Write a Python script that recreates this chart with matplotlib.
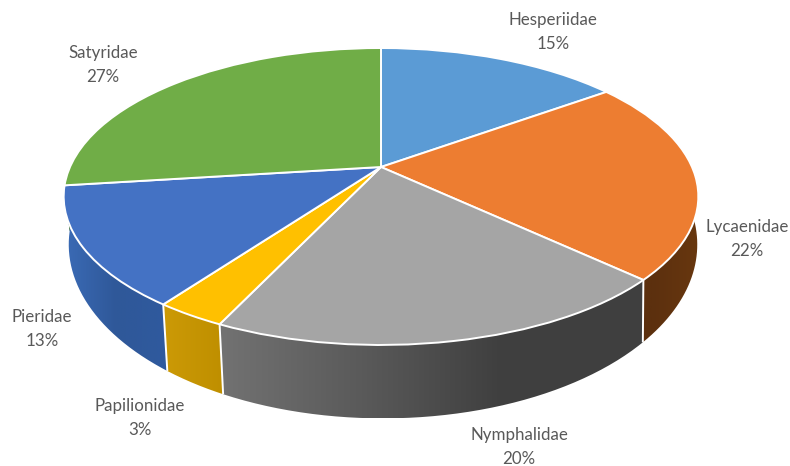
import numpy as np
import matplotlib
matplotlib.use("Agg")
import matplotlib.pyplot as plt
from matplotlib.path import Path
from matplotlib.patches import PathPatch
from matplotlib.transforms import Transform
from matplotlib.colors import to_rgb

families = ["Hesperiidae", "Lycaenidae", "Nymphalidae", "Papilionidae", "Pieridae", "Satyridae"]
shares = [15, 22, 20, 3, 13, 27]
colors = ["#5B9BD5", "#ED7D31", "#A5A5A5", "#FFC000", "#4472C4", "#70AD47"]
wall_colors = [
    ["#3f6f9f", "#3f6f9f"],
    ["#5c300e", "#5c300e", "#68370f"],
    ["#727272", "#5a5a5a", "#3f3f3f", "#404040"],
    ["#cc9a06", "#bf8f00"],
    ["#3b6bb6", "#2f5899", "#2f5a9e"],
    ["#54823a", "#54823a"],
]
label_xy = [(553, 32), (747, 239), (519, 447), (140, 418), (42, 329), (103, 65)]

CX_TOP, CX_LOW = 381.0, 383.0
CY_TOP, CY_LOW = 167.0, 210.0
AX_TOP, AX_LOW = 311.0, 308.0
BY_TOP, BY_LOW = 142.6, 167.0
K = 0.1986


class Projection(Transform):
    """Maps the unit-circle pie plane to the picture with a perspective."""
    input_dims = 2
    output_dims = 2

    def __init__(self, cx, a, b, cy):
        super().__init__()
        self.cx, self.a, self.b, self.cy = cx, a, b, cy

    def transform_non_affine(self, xy):
        xy = np.asarray(xy, dtype=float)
        d = 1 + K * xy[:, 1]
        return np.column_stack((self.cx + self.a * xy[:, 0] / d, self.cy - self.b * xy[:, 1] / d))


top = Projection(CX_TOP, AX_TOP, BY_TOP, CY_TOP)
low = Projection(CX_LOW, AX_LOW, BY_LOW, CY_LOW)


def arc(p, c0, c1, n=120):
    th = np.radians(90 - 3.6 * np.linspace(c0, c1, n))
    return p.transform_non_affine(np.column_stack((np.cos(th), np.sin(th))))


plt.rcParams["font.family"] = ["Lato", "DejaVu Sans"]
fig = plt.figure(figsize=(7.9, 4.66), dpi=100, facecolor="white")
ax = fig.add_axes([0, 0, 1, 1])

wedges, _ = ax.pie(shares, colors=colors, startangle=90, counterclock=False,
                   wedgeprops=dict(edgecolor="white", linewidth=1.4, zorder=5))
for w in wedges:
    w.set_transform(top + ax.transData)
    w.set_clip_on(False)

cum = np.concatenate(([0], np.cumsum(shares)))
for i in range(len(shares)):
    c0, c1 = cum[i], cum[i + 1]
    upper, lower = arc(top, c0, c1), arc(low, c0, c1)
    poly = np.vstack((upper, lower[::-1], upper[:1]))
    x0, x1 = poly[:, 0].min(), poly[:, 0].max()
    y0, y1 = poly[:, 1].min(), poly[:, 1].max()
    stops = np.array([to_rgb(c) for c in wall_colors[i]])
    t = np.linspace(0, 1, 256)
    pos = np.linspace(0, 1, len(stops))
    grad = np.stack([np.interp(t, pos, stops[:, j]) for j in range(3)], axis=-1)[None, :, :]
    im = ax.imshow(grad, extent=(x0, x1, y1, y0), aspect="auto", zorder=1, interpolation="bilinear")
    patch = PathPatch(Path(poly), transform=ax.transData, facecolor="none", edgecolor="none")
    ax.add_patch(patch)
    im.set_clip_path(patch)

for c in cum[2:5]:
    a, b = arc(top, c, c, 1)[0], arc(low, c, c, 1)[0]
    ax.plot([a[0], b[0]], [a[1], b[1]], color="white", lw=1.4, zorder=3, solid_capstyle="butt")

for name, share, (x, y) in zip(families, shares, label_xy):
    ax.text(x, y, f"{name}\n{share}%", ha="center", va="center", fontsize=12.2,
            color="#595959", linespacing=1.55, zorder=6)

ax.set_aspect("auto")
ax.set_xlim(0, 790)
ax.set_ylim(466, 0)
ax.axis("off")
fig.savefig("out.png", dpi=100, facecolor="white")
